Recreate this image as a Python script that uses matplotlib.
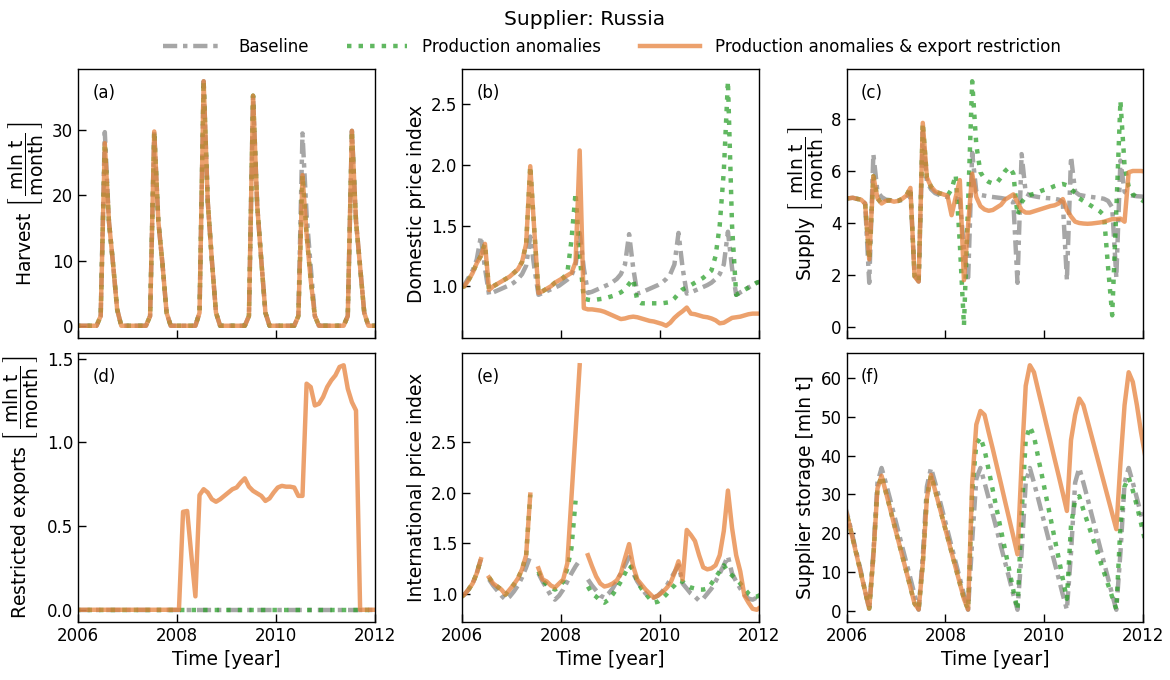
import numpy as np
import matplotlib
matplotlib.use("Agg")
import matplotlib.pyplot as plt
from matplotlib.lines import Line2D

plt.rcParams['font.family'] = ['DejaVu Sans']
plt.rcParams['mathtext.fontset'] = 'dejavusans'

nan = np.nan

# ---------------- data (monthly, mid-month, Dec 2005 .. Jan 2012) ----------------
months = np.arange(-1, 73)
time = 2006 + (months + 0.5) / 12.0

xticks = [2006, 2008, 2010, 2012]
xtick_labels = ['2006', '2008', '2010', '2012']

series_names = ['Baseline', 'Production anomalies', 'Production anomalies & export restriction']

# (a) Harvest [mln t / month]
harvest_base = [0, 0, 0, 0, 0, 0, 1.5, 29.7, 16, 9.5, 2.5, 0, 0, 0, 0, 0, 0, 0,
                1.5, 29.8, 16, 9.5, 2, 0, 0, 0, 0, 0, 0, 0,
                2, 37.5, 19, 10, 2, 0, 0, 0, 0, 0, 0, 0,
                1.5, 35.3, 18.5, 10, 2, 0, 0, 0, 0, 0, 0, 0,
                1.5, 29.5, 17, 9, 1.5, 0, 0, 0, 0, 0, 0, 0,
                1.5, 29.9, 16, 9, 2, 0, 0, 0]
harvest_anom = [0, 0, 0, 0, 0, 0, 1.5, 28, 16, 9.5, 2.5, 0, 0, 0, 0, 0, 0, 0,
                1.5, 29.8, 16, 9.5, 2, 0, 0, 0, 0, 0, 0, 0,
                2, 37.5, 19, 10, 2, 0, 0, 0, 0, 0, 0, 0,
                1.5, 35.3, 18.5, 10, 2, 0, 0, 0, 0, 0, 0, 0,
                1.5, 23.1, 14, 7, 1.5, 0, 0, 0, 0, 0, 0, 0,
                1.5, 29.9, 16, 9, 2, 0, 0, 0]
harvest_restr = list(harvest_anom)

# (b) Domestic price index
dom_base = [0.99, 1.01, 1.07, 1.13, 1.22, 1.41, 1.15, 0.93, 0.95, 0.965, 0.98, 0.995,
            1.01, 1.03, 1.06, 1.10, 1.17, 1.41, 1.15, 0.93, 0.945, 0.96, 0.975, 0.99,
            1.005, 1.03, 1.055, 1.09, 1.17, 1.44, 1.15, 0.945, 0.955, 0.97, 0.985, 1.0,
            1.015, 1.035, 1.06, 1.10, 1.18, 1.43, 1.15, 0.94, 0.95, 0.965, 0.98, 0.995,
            1.01, 1.03, 1.06, 1.10, 1.18, 1.44, 1.15, 0.94, 0.95, 0.965, 0.98, 0.995,
            1.01, 1.03, 1.06, 1.10, 1.18, 1.45, 1.15, 0.93, 0.95, 0.97, 0.99, 1.01,
            1.03, 1.04]
dom_restr = [0.99, 1.0, 1.05, 1.11, 1.19, 1.25, 1.35, 0.97, 1.0, 1.02, 1.04, 1.06,
             1.08, 1.11, 1.14, 1.20, 1.35, 1.99, 1.45, 0.945, 0.96, 0.98, 1.0, 1.03,
             1.05, 1.07, 1.09, 1.11, 1.20, 2.12, 0.82, 0.81, 0.81, 0.805, 0.80, 0.79,
             0.775, 0.76, 0.745, 0.73, 0.735, 0.745, 0.75, 0.745, 0.735, 0.725, 0.715, 0.71,
             0.70, 0.69, 0.675, 0.70, 0.74, 0.77, 0.795, 0.825, 0.775, 0.77, 0.76, 0.75,
             0.745, 0.735, 0.72, 0.695, 0.70, 0.72, 0.74, 0.745, 0.75, 0.76, 0.77, 0.775,
             0.775, 0.775]
dom_anom = [0.99, 1.0, 1.05, 1.11, 1.19, 1.25, 1.35, 0.97, 1.0, 1.02, 1.04, 1.06,
            1.08, 1.11, 1.14, 1.20, 1.35, 1.99, 1.45, 0.945, 0.96, 0.98, 1.0, 1.03,
            1.05, 1.07, 1.11, 1.38, 1.77, 1.25, 0.90, 0.89, 0.885, 0.89, 0.895, 0.90,
            0.91, 0.92, 0.935, 0.95, 0.975, 1.02, 1.06, 0.88, 0.86, 0.86, 0.86, 0.86,
            0.86, 0.86, 0.865, 0.87, 0.90, 0.94, 0.975, 0.99, 1.01, 1.03, 1.05, 1.07,
            1.10, 1.13, 1.25, 1.50, 1.95, 2.69, 1.5, 0.93, 0.95, 0.97, 0.99, 1.01,
            1.03, 1.04]

# (c) Supply [mln t / month]
sup_base = [4.95, 4.95, 4.97, 4.93, 4.9, 4.75, 1.7, 6.65, 5.2, 5.0, 4.9, 4.88,
            4.85, 4.85, 4.88, 4.95, 5.2, 2.0, 1.75, 7.5, 5.6, 5.3, 5.15, 5.08,
            5.03, 5.0, 4.97, 4.95, 4.9, 3.0, 1.75, 6.7, 5.2, 5.08, 5.05, 5.02,
            5.0, 4.98, 4.96, 4.93, 4.88, 4.8, 1.7, 6.65, 5.15, 5.06, 5.03, 5.0,
            4.98, 4.96, 4.95, 4.93, 4.9, 4.8, 1.8, 6.55, 5.2, 5.08, 5.05, 5.02,
            5.0, 4.98, 4.96, 4.93, 4.85, 4.6, 1.9, 6.4, 5.2, 5.08, 5.05, 5.03,
            5.02, 5.0]
sup_restr = [4.95, 4.95, 4.97, 4.93, 4.9, 4.75, 2.6, 5.8, 4.95, 4.75, 4.85, 4.87,
             4.82, 4.85, 4.93, 5.05, 5.35, 1.95, 1.75, 7.85, 5.75, 5.4, 5.22, 5.15,
             5.1, 5.05, 4.3, 5.0, 5.65, 1.8, 3.9, 5.9, 5.0, 4.65, 4.52, 4.47,
             4.5, 4.6, 4.7, 4.9, 5.0, 5.1, 4.8, 4.5, 4.4, 4.4, 4.45, 4.5,
             4.55, 4.6, 4.65, 4.68, 4.75, 4.92, 4.5, 4.25, 4.05, 4.0, 3.98, 3.97,
             3.98, 4.0, 4.02, 4.05, 4.1, 4.15, 4.15, 4.17, 4.05, 5.95, 6.0, 6.0,
             6.0, 5.98]
sup_anom = [4.95, 4.95, 4.97, 4.93, 4.9, 4.75, 2.6, 5.8, 4.95, 4.75, 4.85, 4.87,
            4.82, 4.85, 4.93, 5.05, 5.35, 1.95, 1.75, 7.85, 5.75, 5.4, 5.22, 5.15,
            5.1, 5.05, 5.3, 5.85, 3.2, 0.05, 4.7, 9.45, 7.0, 5.95, 5.7, 5.58,
            5.52, 5.55, 5.75, 6.0, 6.15, 5.9, 4.3, 4.8, 5.0, 5.08, 5.12, 5.18,
            5.25, 5.3, 5.35, 5.42, 5.47, 5.5, 5.45, 5.3, 5.15, 4.95, 4.85, 4.75,
            4.65, 4.55, 4.45, 4.3, 2.3, 0.45, 4.5, 8.7, 6.2, 5.4, 5.1, 5.0,
            4.9, 4.8]

# (d) Restricted exports [mln t / month]
exp_base = [0.0, 0.0, 0.0, 0.0, 0.0, 0.0, 0.0, 0.0, 0.0, 0.0, 0.0, 0.0, 0.0, 0.0,
            0.0, 0.0, 0.0, 0.0, 0.0, 0.0, 0.0, 0.0, 0.0, 0.0, 0.0, 0.0, 0.0, 0.0,
            0.0, 0.0, 0.0, 0.0, 0.0, 0.0, 0.0, 0.0, 0.0, 0.0, 0.0, 0.0, 0.0, 0.0,
            0.0, 0.0, 0.0, 0.0, 0.0, 0.0, 0.0, 0.0, 0.0, 0.0, 0.0, 0.0, 0.0, 0.0,
            0.0, 0.0, 0.0, 0.0, 0.0, 0.0, 0.0, 0.0, 0.0, 0.0, 0.0, 0.0, 0.0, 0.0,
            0.0, 0.0, 0.0, 0.0]
exp_anom = list(exp_base)
exp_restr = [0, 0, 0, 0, 0, 0, 0, 0, 0, 0, 0, 0, 0, 0, 0, 0, 0, 0, 0, 0, 0, 0, 0, 0, 0, 0,
             0.585, 0.59, 0.33, 0.08, 0.685, 0.72, 0.70, 0.66, 0.645, 0.66, 0.68, 0.70,
             0.72, 0.73, 0.76, 0.785, 0.735, 0.71, 0.695, 0.68, 0.65, 0.665, 0.70, 0.73,
             0.74, 0.735, 0.735, 0.73, 0.68, 0.68, 1.35, 1.33, 1.22, 1.23, 1.27, 1.33,
             1.37, 1.40, 1.45, 1.46, 1.32, 1.24, 1.19, 0, 0, 0, 0, 0]

# (e) International price index
int_base = [0.96, 0.99, 1.04, 1.10, 1.20, 1.34, nan, 1.14, 1.08, 1.03, 0.98, 0.94,
            0.97, 1.02, 1.08, 1.16, 1.26, 1.37, nan, 1.20, 1.12, 1.05, 0.98, 0.94,
            0.98, 1.04, 1.12, 1.20, 1.27, 1.33, nan, 1.14, 1.08, 1.03, 0.98, 0.96,
            1.0, 1.05, 1.12, 1.2, 1.28, 1.36, 1.2, 1.12, 1.06, 1.0, 0.97, 0.96,
            0.98, 1.02, 1.07, 1.14, 1.21, 1.28, 1.10, 1.05, 1.0, 0.97, 0.93, 0.95,
            1.0, 1.05, 1.12, 1.2, 1.28, 1.37, 1.2, 1.12, 1.05, 0.99, 0.95, 0.94,
            0.96, 0.98]
int_restr = [0.96, 0.99, 1.04, 1.10, 1.20, 1.34, nan, 1.16, 1.10, 1.07, 1.04, 0.99,
             1.04, 1.09, 1.15, 1.24, 1.38, 1.98, nan, 1.25, 1.14, 1.12, 1.08, 1.06,
             1.10, 1.14, 1.30, 1.95, 2.6, 3.26, nan, 1.38, 1.27, 1.17, 1.10, 1.07,
             1.08, 1.10, 1.13, 1.20, 1.35, 1.49, 1.27, 1.14, 1.09, 1.04, 1.0, 0.96,
             0.98, 1.01, 1.05, 1.10, 1.20, 1.32, 1.14, 1.63, 1.58, 1.52, 1.38, 1.26,
             1.24, 1.25, 1.28, 1.38, 1.62, 2.02, 1.65, 1.38, 1.22, 0.98, 0.91, 0.85,
             0.84, 0.87]
int_anom = [0.96, 0.99, 1.04, 1.10, 1.20, 1.34, nan, 1.16, 1.10, 1.07, 1.04, 0.99,
            1.04, 1.09, 1.15, 1.24, 1.38, 1.98, nan, 1.22, 1.13, 1.09, 1.06, 1.04,
            1.06, 1.12, 1.25, 1.45, 1.92, nan, nan, 1.07, 1.0, 0.97, 0.93, 0.91,
            0.94, 0.99, 1.05, 1.12, 1.2, 1.28, 1.24, 1.12, 1.05, 1.0, 0.95, 0.91,
            0.92, 0.95, 0.99, 1.04, 1.08, 1.13, 1.12, 1.08, 1.06, 1.05, 1.04, 1.04,
            1.05, 1.10, 1.16, 1.22, 1.28, 1.22, 1.18, 1.14, 1.10, 1.05, 1.0, 0.97,
            0.97, 0.99]

# (f) Supplier storage [mln t]
sto_base = [27.5, 23.5, 19, 14.5, 10, 5, 0.3, 15, 33, 36.8, 33, 29,
            24.8, 20.7, 16.5, 12.4, 8.3, 4.1, 0.2, 14, 32, 36.8, 33, 29,
            24.8, 20.7, 16.5, 12.4, 8.3, 4.1, 0.2, 18, 34, 36.8, 33, 29,
            24.8, 20.7, 16.5, 12.4, 8.3, 4.1, 0.2, 15, 33, 36.8, 33, 29,
            24.8, 20.7, 16.5, 12.4, 8.3, 4.1, 0.2, 15, 33, 36.8, 33, 29,
            24.8, 20.7, 16.5, 12.4, 8.3, 4.1, 0.2, 15, 33, 36.8, 33, 29,
            24.8, 20.7]
sto_restr = [27, 23, 18.5, 14, 9.5, 5, 0.5, 14, 31.5, 34.8, 30.7, 26.6,
             22.4, 18.3, 14.2, 10.1, 6.0, 1.8, 0.3, 12, 29, 35.0, 31, 27,
             23, 19, 15, 11, 7, 3, 0.3, 33, 48, 51.5, 50.5, 46,
             41.7, 37.2, 32.7, 28.1, 23.6, 19.1, 14.5, 38, 58, 63.3, 61.5, 57,
             52.6, 48.1, 43.7, 39.2, 34.8, 30.3, 25.7, 44, 50.5, 54.7, 53, 49,
             45, 41, 37, 33, 29, 25, 21, 38, 53, 61.5, 59, 53,
             46, 40]
sto_anom = [27, 23, 18.5, 14, 9.5, 5, 0.5, 14, 31.5, 34.8, 30.7, 26.6,
            22.4, 18.3, 14.2, 10.1, 6.0, 1.8, 0.3, 12, 29, 35.0, 31, 27,
            23, 19, 15, 11, 7, 3, 0.3, 31, 43, 44.7, 41.5, 36.3,
            31.1, 25.9, 20.7, 15.6, 10.4, 5.2, 0.2, 25, 44, 47.5, 45, 39.7,
            34.5, 29.2, 24, 18.7, 13.5, 8.2, 3, 22, 28.5, 29.5, 26, 22.8,
            19.6, 16.4, 13.1, 9.9, 6.7, 3.5, 0.3, 22, 32, 34.4, 31, 27,
            22.5, 18]

frac_unit = r'$\left[\,\dfrac{\mathrm{mln\ t}}{\mathrm{month}}\,\right]$'

panels = [
    ('(a)', 'Harvest ' + frac_unit, harvest_base, harvest_anom, harvest_restr, None),
    ('(b)', 'Domestic price index', dom_base, dom_anom, dom_restr, None),
    ('(c)', 'Supply ' + frac_unit, sup_base, sup_anom, sup_restr, None),
    ('(d)', 'Restricted exports ' + frac_unit, exp_base, exp_anom, exp_restr,
     [0.0, 0.5, 1.0, 1.5]),
    ('(e)', 'International price index', int_base, int_anom, int_restr, [1.0, 1.5, 2.0, 2.5]),
    ('(f)', 'Supplier storage [mln t]', sto_base, sto_anom, sto_restr, None),
]

# ---------------- styles ----------------
c_base = '#808080'
c_anom = '#2ca02c'
c_restr = '#e6823c'
lw = 3.2
ls_base = (0, (3.2, 1.3, 1.0, 1.3))
ls_anom = (0, (1.0, 1.6))

fig, axes = plt.subplots(2, 3, figsize=(11.7, 6.8), dpi=100, sharex=True)
fig.subplots_adjust(left=0.0667, right=0.977, top=0.8985, bottom=0.0853,
                    wspace=0.296, hspace=0.056)

for ax, (letter, ylabel, yb, ya, yr, yt) in zip(axes.flat, panels):
    ax.plot(time, yb, color=c_base, alpha=0.7, lw=lw, linestyle=ls_base)
    ax.plot(time, ya, color=c_anom, alpha=0.75, lw=lw, linestyle=ls_anom)
    ax.plot(time, yr, color=c_restr, alpha=0.75, lw=lw, linestyle='-')
    ax.set_xlim(2006, 2012)
    ax.set_xticks(xticks)
    ax.set_xticklabels(xtick_labels)
    if yt is not None:
        ax.set_yticks(yt)
    ax.set_ylabel(ylabel, fontsize=13.5, labelpad=4)
    ax.tick_params(direction='in', length=5.5, width=1.0, labelsize=12)
    ax.text(0.048, 0.91, letter, transform=ax.transAxes, fontsize=12, va='center', ha='left')
    for s in ax.spines.values():
        s.set_linewidth(1.0)

for ax in axes[1]:
    ax.set_xlabel('Time [year]', fontsize=13.5)
for ax in axes[0]:
    ax.tick_params(labelbottom=False)

handles = [
    Line2D([], [], color=c_base, alpha=0.7, lw=lw, linestyle=ls_base),
    Line2D([], [], color=c_anom, alpha=0.75, lw=lw, linestyle=ls_anom),
    Line2D([], [], color=c_restr, alpha=0.75, lw=lw, linestyle='-'),
]
fig.legend(handles, series_names, loc='center', bbox_to_anchor=(0.523, 0.931), ncol=3,
           frameon=False, fontsize=12, handlelength=3.6, handletextpad=0.9,
           columnspacing=2.3)
fig.suptitle('Supplier: Russia', fontsize=14.5, y=0.971, va='center')

fig.savefig('out.png', dpi=100)
